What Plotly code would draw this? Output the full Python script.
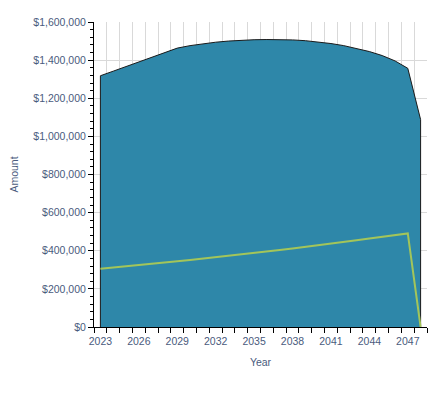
import plotly.graph_objects as go

years = [str(y) for y in range(2023, 2049)]
balance = [1318000, 1342000, 1366000, 1390000, 1414000, 1440000, 1463000, 1476000,
           1486000, 1494000, 1500000, 1504000, 1507000, 1508000, 1508000, 1506000,
           1502000, 1496000, 1487000, 1476000, 1462000, 1445000, 1424000, 1396000,
           1357000, 1088000]
income = [306000, 312000, 318000, 325000, 331000, 338000, 345000, 352000, 359000,
          366000, 373000, 381000, 388000, 396000, 404000, 412000, 420000, 429000,
          437000, 446000, 455000, 464000, 473000, 482000, 491000, 0]
tick_labels = [y if (int(y) - 2023) % 3 == 0 else "" for y in years]

text_color = "#4a5b7d"
font_family = "Liberation Sans, Arial, sans-serif"

fig = go.Figure()
fig.add_trace(go.Scatter(
    x=[years[0]] + years + [years[-1]],
    y=[0] + balance + [0],
    mode="lines", fill="toself", fillcolor="#2E87A9",
    line=dict(color="#1a1a1a", width=1), hoverinfo="skip", showlegend=False))
fig.add_trace(go.Scatter(
    x=years, y=income, mode="lines",
    line=dict(color="#A3C55A", width=2), showlegend=False))

# page body adds an 8px offset, so the figure is sized to compensate
fig.update_layout(
    width=428, height=387,
    margin=dict(l=85.5, r=8.6, t=13.5, b=68.3, autoexpand=False),
    plot_bgcolor="white", paper_bgcolor="white",
    font=dict(family=font_family, size=10.5, color=text_color),
)
fig.update_xaxes(
    type="category", tickson="boundaries", automargin=False,
    categoryorder="array", categoryarray=years,
    range=[-0.5, len(years) - 0.5],
    tickmode="array", tickvals=years, ticktext=tick_labels,
    ticks="outside", ticklen=5, tickcolor="black", tickwidth=1,
    ticklabelstandoff=4,
    showline=True, linecolor="black", linewidth=1,
    showgrid=True, gridcolor="#d9d9d9", gridwidth=1,
    title=dict(text="Year", font=dict(size=10.5, color=text_color), standoff=13),
    tickangle=0,
)
fig.update_yaxes(
    range=[0, 1600000], dtick=200000, tickprefix="$", tickformat=",",
    automargin=False,
    ticks="outside", ticklen=5, tickcolor="black", tickwidth=1,
    showline=True, linecolor="black", linewidth=1,
    showgrid=True, gridcolor="#d9d9d9", gridwidth=1, zeroline=False,
    minor=dict(ticks="outside", ticklen=3, tickcolor="black", dtick=40000, showgrid=False),
    title=dict(text="Amount", font=dict(size=10.5, color=text_color), standoff=14),
)

fig.write_html("out.html")
